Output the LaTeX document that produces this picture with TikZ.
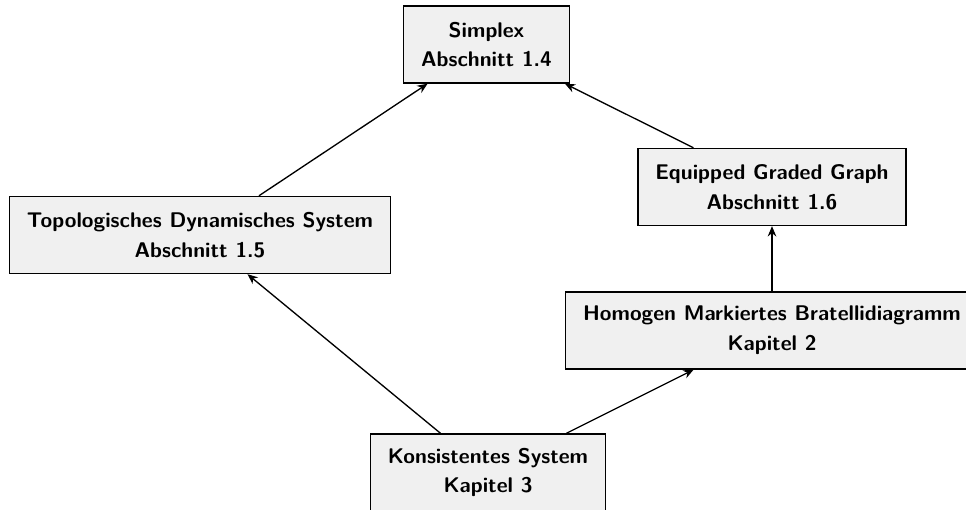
\documentclass[tikz,border=0pt]{standalone}
\usetikzlibrary{arrows.meta}
\begin{document}
\begin{tikzpicture}[x=0.4878pt,y=-0.4878pt,
  topic/.style={draw=black, line width=0.65pt, fill=black!6,
    align=center, font=\sffamily\bfseries\fontsize{10.35}{14.6}\selectfont,
    inner xsep=8.5pt, minimum height=37.6pt},
  dep/.style={line width=0.65pt, -{Stealth[length=5pt,width=4.2pt]}}]
  \useasboundingbox (0,0) rectangle (966,510);
  \begin{scope}
    \clip (0,0) rectangle (966,510);
    \node[topic] (simplex) at (486.5,44.5) {Simplex\\Abschnitt 1.4};
    \node[topic] (tds) at (200,235) {Topologisches Dynamisches System\\Abschnitt 1.5};
    \node[topic] (egg) at (772,187) {Equipped Graded Graph\\Abschnitt 1.6};
    \node[topic] (hmb) at (772,330.5) {Homogen Markiertes Bratellidiagramm\\Kapitel 2};
    \node[topic] (ks) at (488,472.5) {Konsistentes System\\Kapitel 3};
    \draw[dep] (tds) -- (simplex);
    \draw[dep] (egg) -- (simplex);
    \draw[dep] (hmb) -- (egg);
    \draw[dep] (ks) -- (tds);
    \draw[dep] (ks) -- (hmb);
  \end{scope}
\end{tikzpicture}
\end{document}
